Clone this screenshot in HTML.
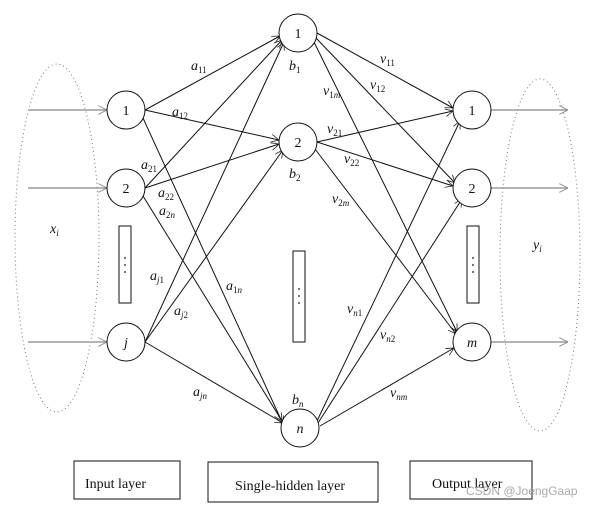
<!DOCTYPE html>
<html><head><meta charset="utf-8"><style>
html,body{margin:0;padding:0;background:#fff;}
svg{display:block;}
text{font-family:"Liberation Serif",serif;fill:#111;}
.i{font-style:italic;font-size:14px;}
.s{font-size:9px;font-style:normal;}
.si{font-size:9px;font-style:italic;}
</style></head><body>
<svg width="602" height="508" viewBox="0 0 602 508" xmlns="http://www.w3.org/2000/svg">
<defs>
<marker id="ar" viewBox="0 0 10 10" refX="10" refY="5" markerWidth="8" markerHeight="8" orient="auto" markerUnits="userSpaceOnUse"><path d="M0,0 L10,5 L0,10" fill="none" stroke="#222" stroke-width="1"/></marker>
<marker id="ag" viewBox="0 0 10 10" refX="10" refY="5" markerWidth="9" markerHeight="9" orient="auto" markerUnits="userSpaceOnUse"><path d="M0,0 L10,5 L0,10" fill="none" stroke="#888" stroke-width="1"/></marker>
</defs>
<ellipse cx="57" cy="238" rx="42" ry="174" fill="none" stroke="#777" stroke-width="1" stroke-dasharray="1,3"/>
<ellipse cx="540" cy="255" rx="40" ry="176" fill="none" stroke="#777" stroke-width="1" stroke-dasharray="1,3"/>
<g stroke="#888" stroke-width="1.2">
<line x1="28" y1="110" x2="107" y2="110" marker-end="url(#ag)"/>
<line x1="28" y1="188" x2="107" y2="188" marker-end="url(#ag)"/>
<line x1="28" y1="342" x2="107" y2="342" marker-end="url(#ag)"/>
<line x1="491" y1="110" x2="568" y2="110" marker-end="url(#ag)"/>
<line x1="491" y1="188" x2="568" y2="188" marker-end="url(#ag)"/>
<line x1="491" y1="342" x2="568" y2="342" marker-end="url(#ag)"/>
</g>
<g stroke="#111" stroke-width="1" fill="none">
<line x1="145" y1="110" x2="280" y2="36" marker-end="url(#ar)"/>
<line x1="145" y1="110" x2="279" y2="140" marker-end="url(#ar)"/>
<line x1="143" y1="118" x2="283" y2="424" marker-end="url(#ar)"/>
<line x1="145" y1="188" x2="282" y2="40" marker-end="url(#ar)"/>
<line x1="145" y1="188" x2="279" y2="144" marker-end="url(#ar)"/>
<line x1="143" y1="196" x2="282" y2="421" marker-end="url(#ar)"/>
<line x1="145" y1="342" x2="284" y2="42" marker-end="url(#ar)"/>
<line x1="145" y1="342" x2="283" y2="150" marker-end="url(#ar)"/>
<line x1="145" y1="342" x2="283" y2="423" marker-end="url(#ar)"/>
<line x1="317" y1="33" x2="453" y2="108" marker-end="url(#ar)"/>
<line x1="316" y1="38" x2="455" y2="183" marker-end="url(#ar)"/>
<line x1="314" y1="42" x2="457" y2="332" marker-end="url(#ar)"/>
<line x1="317" y1="142" x2="453" y2="111" marker-end="url(#ar)"/>
<line x1="317" y1="142" x2="453" y2="186" marker-end="url(#ar)"/>
<line x1="315" y1="149" x2="456" y2="334" marker-end="url(#ar)"/>
<line x1="317" y1="421" x2="460" y2="121" marker-end="url(#ar)"/>
<line x1="318" y1="423" x2="462" y2="199" marker-end="url(#ar)"/>
<line x1="320" y1="426" x2="454" y2="348" marker-end="url(#ar)"/>
</g>
<g stroke="#111" stroke-width="1" fill="#fff">
<circle cx="126" cy="110" r="19"/><circle cx="126" cy="188" r="19"/><circle cx="126" cy="342" r="19"/>
<circle cx="298" cy="33" r="19"/><circle cx="298" cy="142" r="19"/><circle cx="300" cy="428" r="19"/>
<circle cx="472" cy="110" r="19"/><circle cx="472" cy="188" r="19"/><circle cx="472" cy="342" r="19"/>
<rect x="119" y="226" width="12" height="77"/><rect x="293" y="251" width="12" height="91"/><rect x="467" y="226" width="12" height="77"/>
<rect x="74" y="461" width="106" height="38"/><rect x="208" y="462" width="170" height="40"/><rect x="410" y="461" width="122" height="38"/>
</g>
<g fill="#111"><circle cx="125" cy="258" r="0.9"/><circle cx="125" cy="265" r="0.9"/><circle cx="125" cy="272" r="0.9"/>
<circle cx="299" cy="289" r="0.9"/><circle cx="299" cy="296" r="0.9"/><circle cx="299" cy="303" r="0.9"/>
<circle cx="473" cy="258" r="0.9"/><circle cx="473" cy="265" r="0.9"/><circle cx="473" cy="272" r="0.9"/></g>
<g font-size="14" text-anchor="middle">
<text x="126" y="115">1</text><text x="126" y="193">2</text><text x="126" y="347" class="i">j</text>
<text x="298" y="38">1</text><text x="298" y="147">2</text><text x="300" y="433" class="i">n</text>
<text x="472" y="115">1</text><text x="472" y="193">2</text><text x="472" y="347" class="i">m</text>
</g>
<g font-size="14">
<text x="85" y="488">Input layer</text>
<text x="235" y="490">Single-hidden layer</text>
<text x="432" y="488">Output layer</text>
</g>
<g class="i">
<text x="50" y="233">x<tspan class="si" dy="3">i</tspan></text>
<text x="533" y="249">y<tspan class="si" dy="3">i</tspan></text>
<text x="289" y="70">b<tspan class="s" dy="3">1</tspan></text>
<text x="289" y="178">b<tspan class="s" dy="3">2</tspan></text>
<text x="292" y="404">b<tspan class="si" dy="3">n</tspan></text>
<text x="191" y="70">a<tspan class="s" dy="3">11</tspan></text>
<text x="172" y="116">a<tspan class="s" dy="3">12</tspan></text>
<text x="141" y="169">a<tspan class="s" dy="3">21</tspan></text>
<text x="158" y="197">a<tspan class="s" dy="3">22</tspan></text>
<text x="159" y="215">a<tspan class="s" dy="3">2</tspan><tspan class="si">n</tspan></text>
<text x="150" y="280">a<tspan class="si" dy="3">j</tspan><tspan class="s">1</tspan></text>
<text x="174" y="315">a<tspan class="si" dy="3">j</tspan><tspan class="s">2</tspan></text>
<text x="226" y="290">a<tspan class="s" dy="3">1</tspan><tspan class="si">n</tspan></text>
<text x="193" y="396">a<tspan class="si" dy="3">jn</tspan></text>
<text x="380" y="63">v<tspan class="s" dy="3">11</tspan></text>
<text x="370" y="89">v<tspan class="s" dy="3">12</tspan></text>
<text x="323" y="95">v<tspan class="s" dy="3">1</tspan><tspan class="si">m</tspan></text>
<text x="327" y="133">v<tspan class="s" dy="3">21</tspan></text>
<text x="344" y="163">v<tspan class="s" dy="3">22</tspan></text>
<text x="332" y="203">v<tspan class="s" dy="3">2</tspan><tspan class="si">m</tspan></text>
<text x="347" y="313">v<tspan class="si" dy="3">n</tspan><tspan class="s">1</tspan></text>
<text x="380" y="339">v<tspan class="si" dy="3">n</tspan><tspan class="s">2</tspan></text>
<text x="390" y="397">v<tspan class="si" dy="3">nm</tspan></text>
</g>
<text x="466" y="495" font-size="12" style="fill:#aaa;font-family:'Liberation Sans',sans-serif">CSDN @JoengGaap</text>
</svg>
</body></html>
